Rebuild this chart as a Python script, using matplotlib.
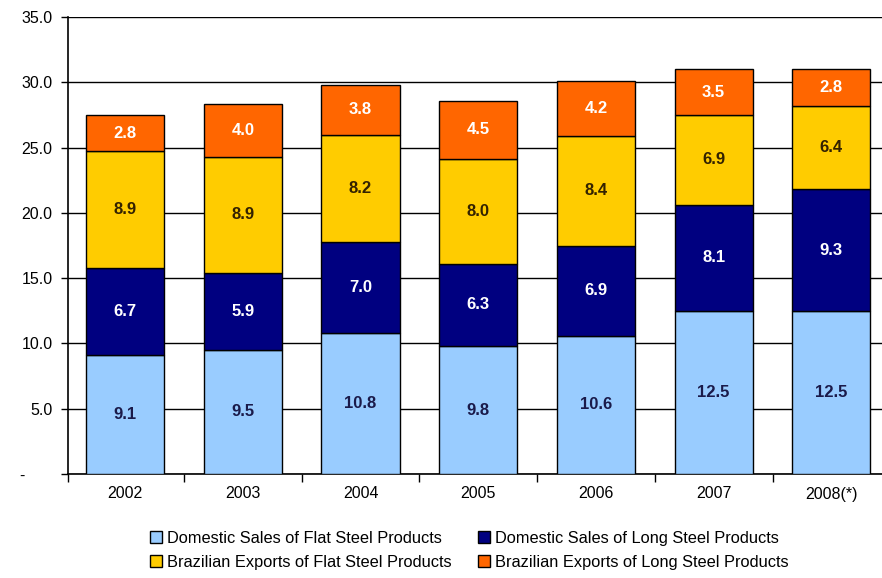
import matplotlib
matplotlib.use("Agg")
import matplotlib.pyplot as plt
import numpy as np

plt.rcParams['font.family'] = ['Liberation Sans', 'DejaVu Sans']

years = ["2002", "2003", "2004", "2005", "2006", "2007", "2008(*)"]
dom_flat = [9.1, 9.5, 10.8, 9.8, 10.6, 12.5, 12.5]
dom_long = [6.7, 5.9, 7.0, 6.3, 6.9, 8.1, 9.3]
exp_flat = [8.9, 8.9, 8.2, 8.0, 8.4, 6.9, 6.4]
exp_long = [2.8, 4.0, 3.8, 4.5, 4.2, 3.5, 2.8]

series = [
    ("Domestic Sales of Flat Steel Products", dom_flat, "#99CCFF", "#1a1a4a"),
    ("Domestic Sales of Long Steel Products", dom_long, "#000080", "white"),
    ("Brazilian Exports of Flat Steel Products", exp_flat, "#FFCC00", "#332200"),
    ("Brazilian Exports of Long Steel Products", exp_long, "#FF6600", "white"),
]

fig = plt.figure(figsize=(8.82, 5.78), dpi=100)
ax = fig.add_axes([68/882, 1-474/578, 1-68/882, (474-17)/578])

x = np.arange(len(years))
bottom = np.zeros(len(years))
handles = []
for name, vals, col, tcol in series:
    vals = np.array(vals)
    b = ax.bar(x, vals, 0.663, bottom=bottom, color=col, edgecolor="black",
               linewidth=1.0, label=name, zorder=3)
    handles.append(b)
    for xi, v, bt in zip(x, vals, bottom):
        ax.text(xi, bt + v/2, f"{v:.1f}", ha="center", va="center",
                fontsize=12, fontweight="bold", color=tcol, zorder=4)
    bottom = bottom + vals

ax.set_ylim(0, 35)
ax.set_xlim(-0.485, 6.43)
ax.set_yticks(np.arange(0, 36, 5))
ax.set_yticklabels(["-      "] + [f"{v:.1f}" for v in np.arange(5, 36, 5)], fontsize=11.5)
ax.yaxis.grid(True, color="black", linewidth=1.0, zorder=0)
ax.set_axisbelow(True)

ax.set_xticks(x)
ax.set_xticklabels(years, fontsize=11.5)
ax.tick_params(axis="x", length=0, pad=9)
ax.set_xticks([-0.485] + list(np.arange(0.5, 6.5, 1)), minor=True)
ax.tick_params(axis="x", which="minor", length=6, width=1, direction="out")
ax.tick_params(axis="y", length=5, width=1, direction="out", pad=6)

for s in ["top", "right"]:
    ax.spines[s].set_visible(False)
for s in ["left", "bottom"]:
    ax.spines[s].set_color("black")
    ax.spines[s].set_linewidth(1.2)

order = [0, 2, 1, 3]
leg = fig.legend([handles[i] for i in order], [series[i][0] for i in order],
                 ncol=2, loc="lower center", bbox_to_anchor=(0.532, -0.012),
                 frameon=False, fontsize=11.8, handlelength=0.75, handleheight=0.75,
                 handletextpad=0.3, columnspacing=1.6, labelspacing=0.55)

fig.savefig("out.png", dpi=100)
